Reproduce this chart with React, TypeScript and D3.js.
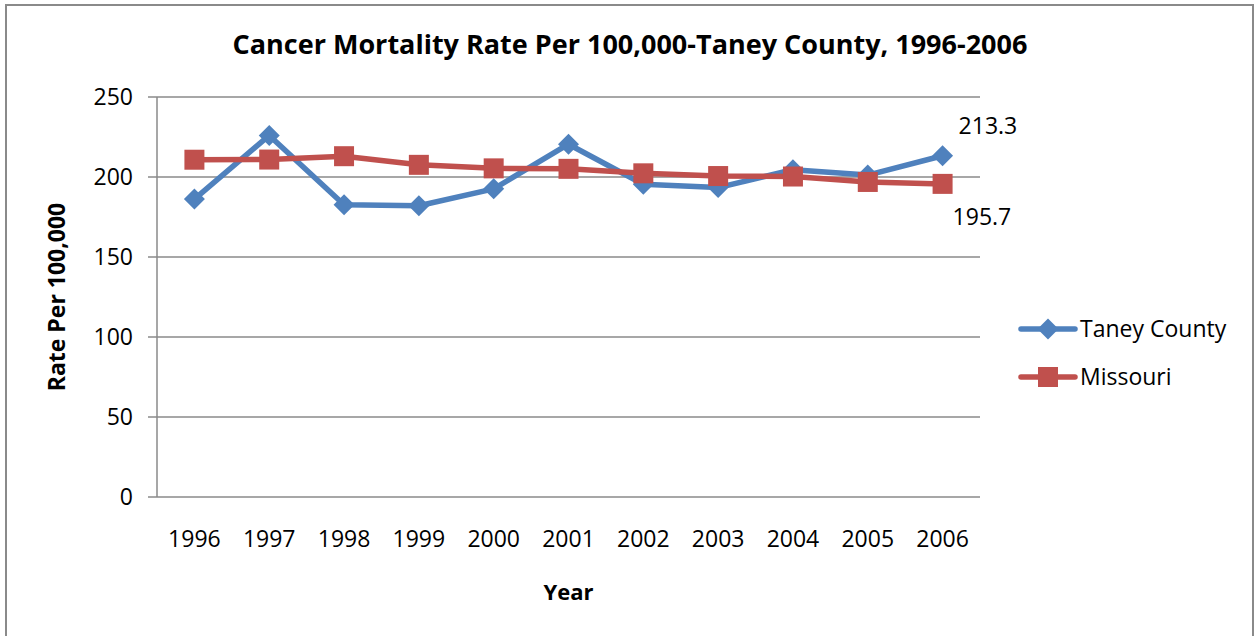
import { useEffect, useRef } from "react";
import * as d3 from "d3";

const years = ["1996", "1997", "1998", "1999", "2000", "2001", "2002", "2003", "2004", "2005", "2006"];
const taneyCounty = [186.2, 226.0, 182.6, 182.0, 192.6, 220.5, 195.5, 193.4, 204.5, 201.2, 213.3];
const missouri = [210.8, 210.9, 213.0, 207.6, 205.4, 205.1, 202.3, 200.6, 200.3, 196.9, 195.7];
const yTicks = [0, 50, 100, 150, 200, 250];

const W = 1255;
const H = 636;
const FONT = "'Open Sans', 'Noto Sans', sans-serif";
const BLUE = "#4f81bd";
const RED = "#c0504d";
const GRID = "#8a8a8a";

export default function App() {
	const svgRef = useRef<SVGSVGElement>(null);

	useEffect(() => {
		if (!svgRef.current) return;
		const svg = d3.select(svgRef.current);
		svg.selectAll("*").remove();

		const plot = { left: 157, right: 980, top: 97, bottom: 497 };

		const x = d3
			.scalePoint<string>()
			.domain(years)
			.range([plot.left, plot.right])
			.padding(0.5);

		const y = d3
			.scaleLinear()
			.domain([0, 250])
			.range([plot.bottom, plot.top]);

		// outer frame
		svg.append("rect")
			.attr("x", 6)
			.attr("y", 5)
			.attr("width", W - 8)
			.attr("height", H + 10)
			.attr("fill", "white")
			.attr("stroke", GRID)
			.attr("stroke-width", 2);

		// gridlines + y ticks
		const grid = svg.append("g");
		grid.selectAll("line")
			.data(yTicks)
			.join("line")
			.attr("x1", plot.left - 9)
			.attr("x2", plot.right)
			.attr("y1", (d) => y(d))
			.attr("y2", (d) => y(d))
			.attr("stroke", GRID)
			.attr("stroke-width", 1.5);

		grid.append("line")
			.attr("x1", plot.left)
			.attr("x2", plot.left)
			.attr("y1", plot.top)
			.attr("y2", plot.bottom)
			.attr("stroke", GRID)
			.attr("stroke-width", 1.5);

		svg.append("g")
			.selectAll("text")
			.data(yTicks)
			.join("text")
			.attr("x", 133)
			.attr("y", (d) => y(d) + 8)
			.attr("text-anchor", "end")
			.attr("font-family", FONT)
			.attr("font-size", 23)
			.attr("fill", "#000")
			.text((d) => d);

		svg.append("g")
			.selectAll("text")
			.data(years)
			.join("text")
			.attr("x", (d) => x(d) ?? 0)
			.attr("y", 547)
			.attr("text-anchor", "middle")
			.attr("font-family", FONT)
			.attr("font-size", 23)
			.attr("fill", "#000")
			.text((d) => d);

		// titles
		svg.append("text")
			.attr("x", 630)
			.attr("y", 54)
			.attr("text-anchor", "middle")
			.attr("font-family", FONT)
			.attr("font-weight", "bold")
			.attr("font-size", 27)
			.text("Cancer Mortality Rate Per 100,000-Taney County, 1996-2006");

		svg.append("text")
			.attr("x", (plot.left + plot.right) / 2)
			.attr("y", 600)
			.attr("text-anchor", "middle")
			.attr("font-family", FONT)
			.attr("font-weight", "bold")
			.attr("font-size", 22)
			.text("Year");

		svg.append("text")
			.attr("transform", `translate(65,${(plot.top + plot.bottom) / 2}) rotate(-90)`)
			.attr("text-anchor", "middle")
			.attr("font-family", FONT)
			.attr("font-weight", "bold")
			.attr("font-size", 23)
			.text("Rate Per 100,000");

		const line = d3
			.line<number>()
			.x((_, i) => x(years[i]) ?? 0)
			.y((d) => y(d));

		const series = [
			{ name: "Taney County", values: taneyCounty, color: BLUE, marker: "diamond" },
			{ name: "Missouri", values: missouri, color: RED, marker: "square" },
		];

		const diamond = "M0,-10.5L10.5,0L0,10.5L-10.5,0Z";
		const square = "M-10,-10H10V10H-10Z";

		series.forEach((s) => {
			svg.append("path")
				.datum(s.values)
				.attr("fill", "none")
				.attr("stroke", s.color)
				.attr("stroke-width", 5.5)
				.attr("stroke-linejoin", "round")
				.attr("d", line);
		});

		series.forEach((s) => {
			svg.append("g")
				.selectAll("path")
				.data(s.values)
				.join("path")
				.attr("transform", (d, i) => `translate(${x(years[i])},${y(d)})`)
				.attr("d", s.marker === "diamond" ? diamond : square)
				.attr("fill", s.color);
		});

		// end data labels
		const last = years.length - 1;
		svg.append("text")
			.attr("x", (x(years[last]) ?? 0) + 16)
			.attr("y", y(taneyCounty[last]) - 22)
			.attr("font-family", FONT)
			.attr("font-size", 23)
			.text(taneyCounty[last].toFixed(1));

		svg.append("text")
			.attr("x", (x(years[last]) ?? 0) + 10)
			.attr("y", y(missouri[last]) + 41)
			.attr("font-family", FONT)
			.attr("font-size", 23)
			.text(missouri[last].toFixed(1));

		// legend
		const legend = svg.append("g");
		series.forEach((s, i) => {
			const ly = 329 + i * 48;
			legend.append("line")
				.attr("x1", 1021)
				.attr("x2", 1075)
				.attr("y1", ly)
				.attr("y2", ly)
				.attr("stroke", s.color)
				.attr("stroke-width", 5.5)
				.attr("stroke-linecap", "round");
			legend.append("path")
				.attr("transform", `translate(1048,${ly})`)
				.attr("d", s.marker === "diamond" ? diamond : square)
				.attr("fill", s.color);
			legend.append("text")
				.attr("x", 1080)
				.attr("y", ly + 8)
				.attr("font-family", FONT)
				.attr("font-size", 23)
				.text(s.name);
		});
	}, []);

	return (
		<div style={{ position: "absolute", left: 0, top: 0, width: W, height: H, overflow: "hidden" }}>
			<svg ref={svgRef} width={W} height={H} />
		</div>
	);
}
